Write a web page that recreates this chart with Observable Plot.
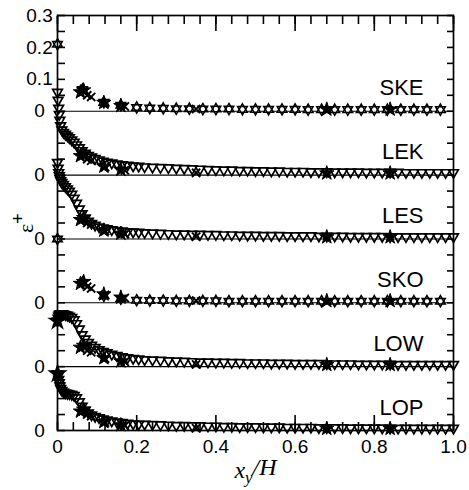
<!DOCTYPE html>
<html><head><meta charset="utf-8">
<script src="https://cdn.jsdelivr.net/npm/d3@7"></script>
<script src="https://cdn.jsdelivr.net/npm/@observablehq/plot@0.6"></script>
<style>body{margin:0;background:#fff;font-family:'Liberation Sans',Arial,sans-serif}</style>
</head><body><div id="chart"></div>
<script>
// Panels (top to bottom) and their stacking offsets on the y axis
const panels = ["SKE", "LEK", "LES", "SKO", "LOW", "LOP"];
const offsets = [1.0, 0.8, 0.6, 0.4, 0.2, 0.0];

// Dense model profiles (LEK, LES, LOW, LOP)
const denseX = [0, 0.0015, 0.003, 0.0045, 0.006, 0.008, 0.011, 0.015, 0.02, 0.025, 0.03, 0.036, 0.042, 0.048, 0.055, 0.062, 0.07, 0.078, 0.086, 0.095, 0.105, 0.115, 0.125, 0.137, 0.15, 0.163, 0.177, 0.191, 0.205,
  0.22, 0.24, 0.26, 0.28, 0.30, 0.32, 0.34, 0.36, 0.38, 0.40, 0.42, 0.44, 0.46, 0.48, 0.50, 0.52, 0.54, 0.56, 0.58, 0.60, 0.62, 0.64, 0.66, 0.68, 0.70, 0.72, 0.74, 0.76, 0.78, 0.80, 0.82, 0.84, 0.86, 0.88, 0.90, 0.92, 0.94, 0.96, 0.98, 1.00];
const lekY = [0.26, 0.235, 0.21, 0.19, 0.172, 0.155, 0.142, 0.134, 0.128, 0.123, 0.117, 0.11, 0.103, 0.095, 0.086, 0.077, 0.069, 0.062, 0.057, 0.052, 0.048, 0.044, 0.041, 0.038, 0.035, 0.033, 0.031, 0.029, 0.028,
  0.026, 0.025, 0.024, 0.023, 0.022, 0.021, 0.020, 0.019, 0.018, 0.017, 0.016, 0.016, 0.015, 0.015, 0.014, 0.014, 0.013, 0.013, 0.012, 0.012, 0.012, 0.011, 0.011, 0.011, 0.010, 0.010, 0.010, 0.010, 0.009, 0.009, 0.009, 0.009, 0.009, 0.008, 0.008, 0.008, 0.008, 0.008, 0.008, 0.008];
const lesY = [0.24, 0.222, 0.208, 0.198, 0.19, 0.183, 0.177, 0.171, 0.164, 0.157, 0.15, 0.14, 0.128, 0.112, 0.094, 0.079, 0.066, 0.056, 0.049, 0.043, 0.038, 0.035, 0.032, 0.029, 0.027, 0.025, 0.023, 0.022, 0.021,
  0.020, 0.019, 0.018, 0.017, 0.016, 0.016, 0.015, 0.015, 0.014, 0.014, 0.013, 0.013, 0.012, 0.012, 0.012, 0.011, 0.011, 0.011, 0.010, 0.010, 0.010, 0.010, 0.009, 0.009, 0.009, 0.009, 0.008, 0.008, 0.008, 0.008, 0.008, 0.007, 0.007, 0.007, 0.007, 0.007, 0.007, 0.007, 0.007, 0.007];
const lowY = [0.143, 0.152, 0.158, 0.162, 0.165, 0.166, 0.166, 0.165, 0.163, 0.161, 0.158, 0.154, 0.147, 0.135, 0.118, 0.1, 0.087, 0.076, 0.067, 0.06, 0.053, 0.048, 0.044, 0.039, 0.035, 0.031, 0.028, 0.026, 0.024,
  0.022, 0.021, 0.020, 0.019, 0.018, 0.017, 0.016, 0.015, 0.015, 0.014, 0.014, 0.013, 0.013, 0.012, 0.012, 0.012, 0.011, 0.011, 0.011, 0.010, 0.010, 0.010, 0.010, 0.009, 0.009, 0.009, 0.009, 0.008, 0.008, 0.008, 0.008, 0.008, 0.007, 0.007, 0.007, 0.007, 0.007, 0.007, 0.007, 0.007];
const lopY = [0.178, 0.17, 0.16, 0.15, 0.14, 0.132, 0.126, 0.121, 0.118, 0.116, 0.115, 0.113, 0.11, 0.103, 0.09, 0.076, 0.064, 0.055, 0.049, 0.044, 0.04, 0.036, 0.033, 0.03, 0.027, 0.025, 0.023, 0.021, 0.02,
  0.020, 0.019, 0.018, 0.017, 0.016, 0.016, 0.015, 0.015, 0.014, 0.014, 0.013, 0.013, 0.012, 0.012, 0.012, 0.011, 0.011, 0.011, 0.010, 0.010, 0.010, 0.010, 0.009, 0.009, 0.009, 0.009, 0.008, 0.008, 0.008, 0.008, 0.008, 0.007, 0.007, 0.007, 0.007, 0.007, 0.007, 0.007, 0.007, 0.007];

// Sparse model profiles (SKE, SKO)
const sparseX = [0, 0.063, 0.117, 0.16, 0.2, 0.233, 0.267, 0.3, 0.333, 0.367, 0.4, 0.433, 0.467, 0.5, 0.533, 0.567, 0.6, 0.633, 0.667, 0.7, 0.733, 0.767, 0.8, 0.833, 0.867, 0.9, 0.933, 0.967];
const skeY = [0.21, 0.068, 0.028, 0.019, 0.012, 0.01, 0.009, 0.008, 0.008, 0.007, 0.007, 0.007, 0.006, 0.006, 0.006, 0.006, 0.006, 0.005, 0.005, 0.005, 0.005, 0.005, 0.005, 0.005, 0.005, 0.005, 0.005, 0.005];
const skoY = [0.2, 0.063, 0.022, 0.013, 0.008, 0.007, 0.007, 0.006, 0.006, 0.006, 0.006, 0.005, 0.005, 0.005, 0.005, 0.005, 0.005, 0.005, 0.005, 0.005, 0.005, 0.005, 0.005, 0.005, 0.005, 0.005, 0.005, 0.005];

// Measured data (same in each panel): filled stars and crosses
const starX = [0.058, 0.066, 0.117, 0.16, 0.68, 0.84];
const starY = [0.06, 0.066, 0.027, 0.017, 0.006, 0.006];
const crossX = [0.075, 0.085, 0.12, 0.17, 0.35];
const crossY = [0.05, 0.045, 0.025, 0.015, 0.007];
// Wall values shown filled
const wallPanels = ["LOW", "LOP"];
const wallY = [0.143, 0.178];

// Axis ticks and labels
const xTicks = [0, 0.2, 0.4, 0.6, 0.8, 1.0];
const xTickText = ["0", "0.2", "0.4", "0.6", "0.8", "1.0"];
const xMinorTicks = [0, 0.04, 0.08, 0.12, 0.16, 0.2, 0.24, 0.28, 0.32, 0.36, 0.4, 0.44, 0.48, 0.52, 0.56, 0.6, 0.64, 0.68, 0.72, 0.76, 0.8, 0.84, 0.88, 0.92, 0.96, 1.0];
const yLabelTicks = [1.3, 1.2, 1.1, 1.0, 0.8, 0.6, 0.4, 0.2, 0.0];
const yLabelText = ["0.3", "0.2", "0.1", "0", "0", "0", "0", "0", "0"];
const yMinorTicks = [0, 0.05, 0.1, 0.15, 0.2, 0.25, 0.3, 0.35, 0.4, 0.45, 0.5, 0.55, 0.6, 0.65, 0.7, 0.75, 0.8, 0.85, 0.9, 0.95, 1.0, 1.05, 1.1, 1.15, 1.2, 1.25, 1.3];

const off = name => offsets[panels.indexOf(name)];
const dense = [];
[["LEK", lekY], ["LES", lesY], ["LOW", lowY], ["LOP", lopY]].forEach(([p, ys]) =>
  ys.forEach((v, i) => dense.push({x: denseX[i], v, p})));
const sparse = [];
[["SKE", skeY], ["SKO", skoY]].forEach(([p, ys]) =>
  ys.forEach((v, i) => sparse.push({x: sparseX[i], v, p})));
const stars = [], crosses = [];
panels.forEach(p => {
  starX.forEach((x, i) => stars.push({x, v: starY[i], p}));
  crossX.forEach((x, i) => crosses.push({x, v: crossY[i], p}));
});
const walls = wallPanels.map((p, i) => ({x: 0, v: wallY[i], p}));
const Y = d => d.v + off(d.p);
const panelRows = panels.map((p, i) => ({p, o: offsets[i]}));

const noText = {tickFormat: () => "", label: null, stroke: "black", strokeWidth: 1.6};

const chart = Plot.plot({
  width: 469, height: 490,
  marginLeft: 57, marginRight: 16, marginTop: 15, marginBottom: 60,
  style: {color: "black"},
  x: {domain: [0, 1]},
  y: {domain: [0, 1.3]},
  marks: [
    Plot.ruleY(offsets, {stroke: "black", strokeWidth: 1.1}),
    Plot.dot(dense, {x: "x", y: Y, symbol: "triangle", rotate: 180, r: 3.6, stroke: "black", strokeWidth: 1.7}),
    Plot.dot(sparse, {x: "x", y: Y, symbol: "triangle", r: 3.6, stroke: "black", strokeWidth: 1.5, fill: "white"}),
    Plot.dot(sparse, {x: "x", y: Y, symbol: "triangle", rotate: 180, r: 3.6, stroke: "black", strokeWidth: 1.5}),
    Plot.dot(stars, {x: "x", y: Y, symbol: "star", r: 4.5, fill: "black", stroke: "black", strokeWidth: 1}),
    Plot.dot(walls, {x: "x", y: Y, symbol: "star", r: 5, fill: "black", stroke: "black"}),
    Plot.dot(crosses, {x: "x", y: Y, symbol: "times", r: 3.8, stroke: "black", strokeWidth: 1.9}),
    Plot.text(panelRows, {y: "o", text: "p", frameAnchor: "right", textAnchor: "end", lineAnchor: "bottom", dx: -30, dy: -16, fontSize: 22, fontFamily: "'Liberation Sans', Arial, sans-serif", fill: "black"}),
    // inward ticks (negative tick size points into the frame)
    Plot.axisX({anchor: "top", ticks: xMinorTicks, tickSize: -8, ...noText}),
    Plot.axisX({anchor: "top", ticks: xTicks, tickSize: -15, ...noText}),
    Plot.axisX({anchor: "bottom", ticks: xMinorTicks, tickSize: -8, ...noText}),
    Plot.axisX({anchor: "bottom", ticks: xTicks, tickSize: -15, ...noText}),
    Plot.axisY({anchor: "left", ticks: yMinorTicks, tickSize: -8, ...noText}),
    Plot.axisY({anchor: "right", ticks: yMinorTicks, tickSize: -7, ...noText}),
    Plot.axisX({anchor: "bottom", ticks: xTicks, tickSize: 0, tickPadding: 9, tickFormat: d => xTickText[xTicks.indexOf(d)], fontSize: 19, fontFamily: "'Liberation Sans', Arial, sans-serif", label: "x2/H", labelAnchor: "center", labelOffset: 47}),
    Plot.axisY({anchor: "left", ticks: yLabelTicks, tickSize: 0, tickPadding: 18, textAnchor: "middle", tickFormat: d => yLabelText[yLabelTicks.indexOf(d)], fontSize: 19, fontFamily: "'Liberation Sans', Arial, sans-serif", label: "e+", labelAnchor: "center", labelOffset: 40}),
    Plot.frame({stroke: "black", strokeWidth: 1.7})
  ]
});
document.getElementById("chart").appendChild(chart);

// Rich axis titles: italic x with subscript, epsilon with superscript plus
const svg = d3.select(chart);
const xl = svg.select('g[aria-label="x-axis label"] text');
if (!xl.empty()) {
  xl.text(null).style("font-family", "'Liberation Serif', 'Times New Roman', serif").style("font-size", "24px").style("font-style", "italic");
  xl.append("tspan").text("x");
  xl.append("tspan").attr("dy", "0.3em").style("font-size", "17px").text("y");
  xl.append("tspan").attr("dy", "-0.3em").text("/H");
}
const yl = svg.select('g[aria-label="y-axis label"] text');
if (!yl.empty()) {
  yl.text(null).style("font-family", "'Liberation Serif', 'Times New Roman', serif").style("font-size", "22px");
  yl.append("tspan").text("\u03b5");
  yl.append("tspan").attr("dy", "-0.5em").style("font-family", "'Liberation Sans', Arial, sans-serif").style("font-size", "18px").text("+");
}
</script>
</body></html>
